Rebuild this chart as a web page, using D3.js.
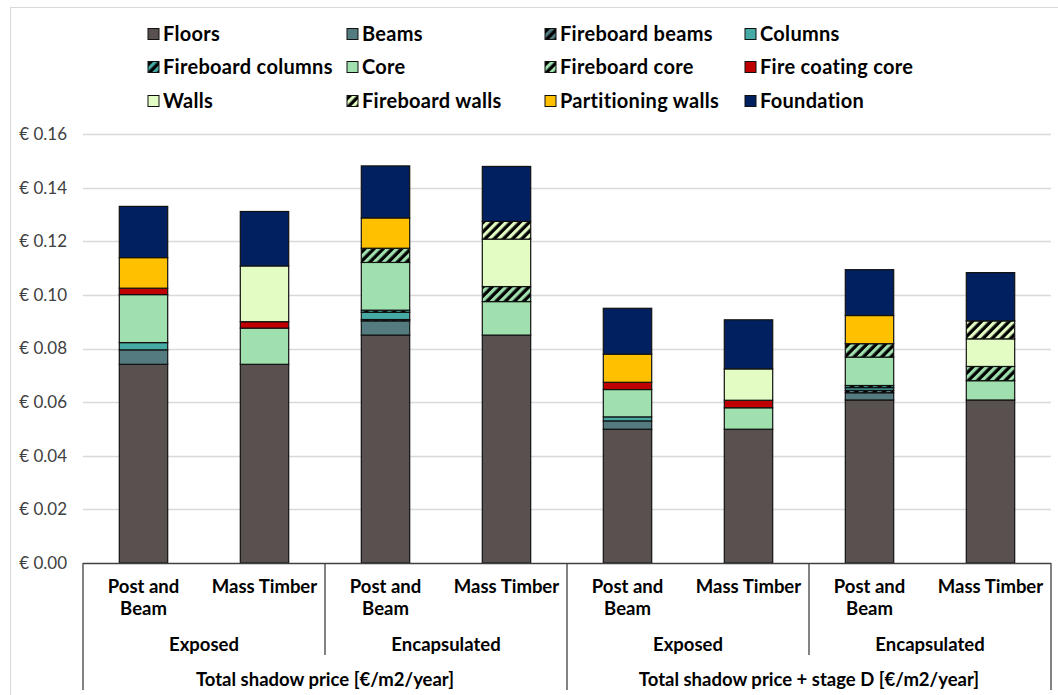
<!DOCTYPE html>
<html>
<head>
<meta charset="utf-8">
<script src="https://cdn.jsdelivr.net/npm/d3@7"></script>
<style>
  html, body { margin: 0; padding: 0; background: #fff; }
  svg { display: block; font-family: Lato, "Open Sans", sans-serif; }
</style>
</head>
<body>
<svg id="chart" width="1058" height="695"></svg>
<script>
// Building cases (one bar each)
const structures = ["Post and\nBeam", "Mass Timber", "Post and\nBeam", "Mass Timber",
                    "Post and\nBeam", "Mass Timber", "Post and\nBeam", "Mass Timber"];
const finishes = ["Exposed", "Encapsulated", "Exposed", "Encapsulated"];
const totals = ["Total shadow price [€/m2/year]", "Total shadow price + stage D [€/m2/year]"];

// Component contributions, €/m2/year
const floors            = [0.0741, 0.0741, 0.0850, 0.0850, 0.0499, 0.0499, 0.0608, 0.0608];
const beams             = [0.0054, 0,      0.0053, 0,      0.0031, 0,      0.0027, 0];
const fireboardBeams    = [0,      0,      0.0005, 0,      0,      0,      0.0009, 0];
const columns           = [0.0027, 0,      0.0027, 0,      0.0015, 0,      0.0010, 0];
const fireboardColumns  = [0,      0,      0.0008, 0,      0,      0,      0.0008, 0];
const core              = [0.0179, 0.0135, 0.0178, 0.0125, 0.0102, 0.0080, 0.0106, 0.0072];
const fireboardCore     = [0,      0,      0.0053, 0.0056, 0,      0,      0.0050, 0.0053];
const fireCoatingCore   = [0.0024, 0.0024, 0,      0,      0.0027, 0.0028, 0,      0];
const walls             = [0,      0.0208, 0,      0.0177, 0,      0.0117, 0,      0.0103];
const fireboardWalls    = [0,      0,      0,      0.0066, 0,      0,      0,      0.0067];
const partitioningWalls = [0.0114, 0,      0.0113, 0,      0.0105, 0,      0.0105, 0];
const foundation        = [0.0191, 0.0203, 0.0194, 0.0205, 0.0171, 0.0183, 0.0171, 0.0180];

const yTicks = [0, 0.02, 0.04, 0.06, 0.08, 0.10, 0.12, 0.14, 0.16];

const series = [
  { name: "Floors",             values: floors,            color: "#595050" },
  { name: "Beams",              values: beams,             color: "#547b80" },
  { name: "Fireboard beams",    values: fireboardBeams,    color: "#547b80", hatch: true },
  { name: "Columns",            values: columns,           color: "#46aaa5" },
  { name: "Fireboard columns",  values: fireboardColumns,  color: "#46aaa5", hatch: true },
  { name: "Core",               values: core,              color: "#9fe0ae" },
  { name: "Fireboard core",     values: fireboardCore,     color: "#9fe0ae", hatch: true },
  { name: "Fire coating core",  values: fireCoatingCore,   color: "#c00000" },
  { name: "Walls",              values: walls,             color: "#e3fcc4" },
  { name: "Fireboard walls",    values: fireboardWalls,    color: "#e3fcc4", hatch: true },
  { name: "Partitioning walls", values: partitioningWalls, color: "#ffc000" },
  { name: "Foundation",         values: foundation,        color: "#002060" }
];

const svg = d3.select("#chart");
const plot = { left: 83, right: 1051, top: 134, bottom: 563 };

// outer chart frame
svg.append("rect")
  .attr("x", 10.5).attr("y", 7.5).attr("width", 1060).attr("height", 700)
  .attr("fill", "none").attr("stroke", "#d9d9d9").attr("stroke-width", 1);

// diagonal hatch fills
const defs = svg.append("defs");
series.filter(s => s.hatch).forEach((s, i) => {
  s.patternId = "hatch" + i;
  const p = defs.append("pattern")
    .attr("id", s.patternId)
    .attr("patternUnits", "userSpaceOnUse")
    .attr("width", 6.5).attr("height", 6.5)
    .attr("patternTransform", "rotate(45)");
  p.append("rect").attr("width", 6.5).attr("height", 6.5).attr("fill", "#000");
  p.append("rect").attr("x", 0).attr("width", 3.2).attr("height", 6.5).attr("fill", s.color);
});
const fillOf = s => s.hatch ? `url(#${s.patternId})` : s.color;

const idx = d3.range(structures.length);
const x = d3.scaleBand().domain(idx).range([plot.left, plot.right])
  .paddingInner(0.6).paddingOuter(0.3);
const y = d3.scaleLinear().domain([0, 0.16]).range([plot.bottom, plot.top]);

// gridlines
svg.append("g").selectAll("line").data(yTicks.slice(1)).join("line")
  .attr("x1", plot.left).attr("x2", plot.right)
  .attr("y1", d => Math.round(y(d)) + 0.5).attr("y2", d => Math.round(y(d)) + 0.5)
  .attr("stroke", "#d9d9d9").attr("stroke-width", 1.3);

// value axis labels
const yAxis = d3.axisLeft(y).tickValues(yTicks).tickSize(0).tickPadding(16)
  .tickFormat(d => "€ " + d3.format(".2f")(d));
const ya = svg.append("g").attr("transform", `translate(${plot.left},0)`).call(yAxis);
ya.select(".domain").remove();
ya.selectAll("text").attr("font-size", 17).attr("fill", "#404040")
  .attr("font-family", "Lato, sans-serif");

// stacked bars
const rows = idx.map(i => {
  const r = { i };
  series.forEach(s => r[s.name] = s.values[i]);
  return r;
});
const stacked = d3.stack().keys(series.map(s => s.name))(rows);
stacked.forEach((layer, k) => {
  const s = series[k];
  svg.append("g").selectAll("rect").data(layer.filter(d => d[1] - d[0] > 0)).join("rect")
    .attr("x", d => x(d.data.i))
    .attr("width", x.bandwidth())
    .attr("y", d => y(d[1]))
    .attr("height", d => y(d[0]) - y(d[1]))
    .attr("fill", fillOf(s))
    .attr("stroke", "#111").attr("stroke-width", 1.2);
});

// category axis frame
const ax = svg.append("g").attr("stroke", "#404040").attr("stroke-width", 1.3);
ax.append("line").attr("x1", plot.left).attr("x2", plot.right)
  .attr("y1", plot.bottom + 0.5).attr("y2", plot.bottom + 0.5);
const step = x.step();
const edge = k => plot.left + k * step;
[0, 4, 8].forEach(k => ax.append("line").attr("x1", edge(k)).attr("x2", edge(k))
  .attr("y1", plot.bottom).attr("y2", 690));
[2, 6].forEach(k => ax.append("line").attr("x1", edge(k)).attr("x2", edge(k))
  .attr("y1", plot.bottom).attr("y2", 655));

const labelStyle = sel => sel.attr("font-size", 18.5).attr("font-weight", 700)
  .attr("fill", "#000").attr("text-anchor", "middle");

// structure labels
svg.append("g").selectAll("text").data(idx).join("text")
  .call(labelStyle)
  .attr("x", i => x(i) + x.bandwidth() / 2)
  .attr("y", 593)
  .each(function(i) {
    const t = d3.select(this);
    structures[i].split("\n").forEach((line, j) => {
      t.append("tspan").attr("x", x(i) + x.bandwidth() / 2).attr("dy", j ? 22 : 0).text(line);
    });
  });

// finish labels
svg.append("g").selectAll("text").data(finishes).join("text")
  .call(labelStyle)
  .attr("x", (d, k) => edge(2 * k + 1)).attr("y", 651).text(d => d);

// totals labels
svg.append("g").selectAll("text").data(totals).join("text")
  .call(labelStyle)
  .attr("x", (d, k) => edge(4 * k + 2)).attr("y", 686).text(d => d);

// legend
const legX = [148, 347, 545, 745];
const legY = [34, 67, 101];
const leg = svg.append("g").selectAll("g").data(series).join("g")
  .attr("transform", (d, k) => `translate(${legX[k % 4]},${legY[Math.floor(k / 4)]})`);
leg.append("rect").attr("x", 0).attr("y", -5.5).attr("width", 11).attr("height", 11)
  .attr("fill", d => fillOf(d)).attr("stroke", "#111").attr("stroke-width", 1);
leg.append("text").attr("x", 15).attr("y", 7)
  .attr("font-size", 20).attr("font-weight", 700).attr("fill", "#000")
  .attr("letter-spacing", 0.3)
  .text(d => d.name);
</script>
</body>
</html>
